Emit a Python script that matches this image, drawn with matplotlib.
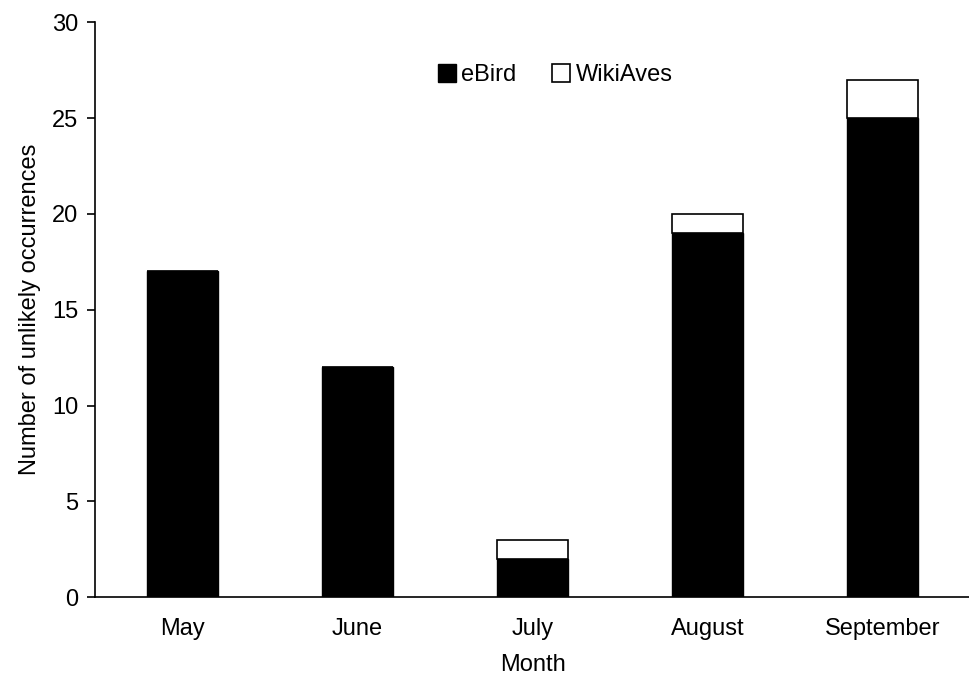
import numpy as np
import matplotlib.pyplot as plt

plt.rcParams['font.family'] = ['Liberation Sans', 'DejaVu Sans']

# unlikely occurrences per month, by source
months = ['May', 'June', 'July', 'August', 'September']
ebird = [17, 12, 2, 19, 25]
wikiaves = [0, 0, 1, 1, 2]

fs = 17

fig = plt.figure(figsize=(9.7, 6.74), dpi=100)
ax = fig.add_axes([0.098, 0.114, 0.902, 0.853])

x = np.arange(len(months))
width = 0.41
ax.bar(x, ebird, width, color='black', edgecolor='black', linewidth=1.0, label='eBird')
ax.bar(x, wikiaves, width, bottom=ebird, color='white', edgecolor='black',
       linewidth=1.2, label='WikiAves')

ax.set_xlim(-0.5, len(months) - 0.5)
ax.set_ylim(0, 30)
ax.set_yticks(range(0, 31, 5))
ax.set_xticks(x)
ax.set_xticklabels(months)
ax.tick_params(axis='x', length=0, pad=15, labelsize=fs)
ax.tick_params(axis='y', length=6, width=1.2, direction='out', pad=6, labelsize=fs)

for side in ['top', 'right']:
    ax.spines[side].set_visible(False)
for side in ['left', 'bottom']:
    ax.spines[side].set_linewidth(1.2)

ax.set_xlabel('Month', fontsize=fs, labelpad=10)
ax.set_ylabel('Number of unlikely occurrences', fontsize=fs, labelpad=8)

ax.legend(loc='center', bbox_to_anchor=(0.526, 0.908), ncol=2, frameon=False,
          fontsize=fs, handlelength=0.75, handleheight=0.75, handletextpad=0.25,
          columnspacing=1.5, borderpad=0)

fig.savefig('out.png', dpi=100)
